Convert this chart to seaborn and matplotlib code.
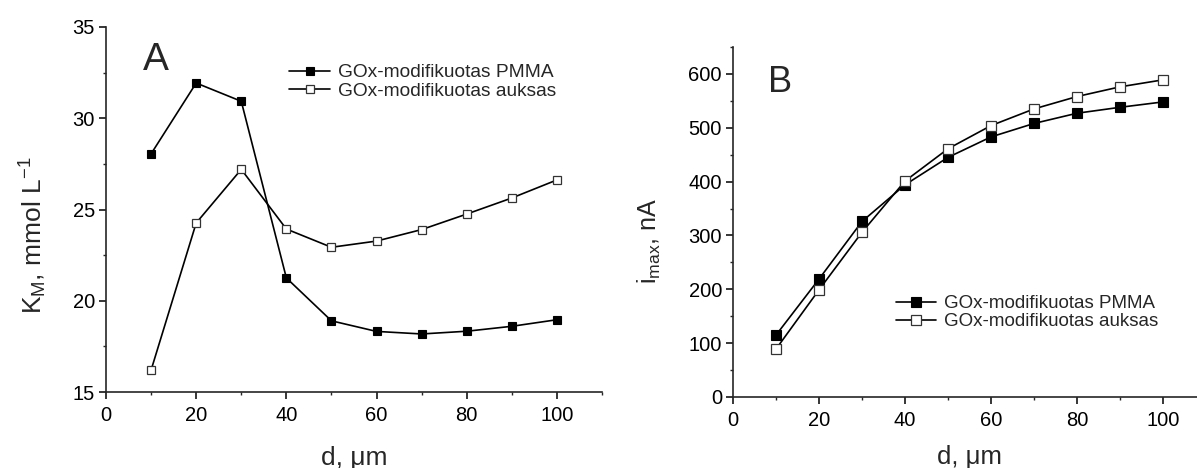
import numpy as np
import pandas as pd
import matplotlib
matplotlib.use("Agg")
import matplotlib.pyplot as plt
from matplotlib.ticker import MultipleLocator
import seaborn as sns

# Thickness of the layer, µm
d_um = [10, 20, 30, 40, 50, 60, 70, 80, 90, 100]

# Panel A: apparent Michaelis constant K_M, mmol/L
km_pmma = [28.05, 31.93, 30.93, 21.25, 18.9, 18.32, 18.18, 18.33, 18.6, 18.96]
km_gold = [16.2, 24.26, 27.2, 23.93, 22.93, 23.27, 23.9, 24.75, 25.63, 26.62]

# Panel B: maximal current i_max, nA
imax_pmma = [115, 219, 326, 394, 445, 483, 508, 527, 538, 548]
imax_gold = [89, 199, 306, 401, 461, 504, 535, 558, 576, 589]

label_pmma = "GOx-modifikuotas PMMA"
label_gold = "GOx-modifikuotas auksas"

sns.set_style("ticks")
plt.rcParams["font.family"] = ["Liberation Sans", "DejaVu Sans"]
plt.rcParams["mathtext.fontset"] = "custom"
plt.rcParams["mathtext.rm"] = "Liberation Sans"
plt.rcParams["mathtext.it"] = "Liberation Sans:italic"
plt.rcParams["axes.linewidth"] = 1.2

W, H = 1197, 468
fig = plt.figure(figsize=(W / 100, H / 100), dpi=100)
fig.patch.set_facecolor("white")

def px_axes(left, top, right, bottom):
    return fig.add_axes([left / W, 1 - bottom / H, (right - left) / W, (bottom - top) / H])

axA = px_axes(106, 27, 602, 392)
axB = px_axes(733, 47, 1206, 397)

dfA = pd.DataFrame({"d": d_um, "pmma": km_pmma, "gold": km_gold})
dfB = pd.DataFrame({"d": d_um, "pmma": imax_pmma, "gold": imax_gold})

def draw(ax, df, ms):
    sns.lineplot(data=df, x="d", y="pmma", ax=ax, color="black", lw=1.2,
                 marker="s", markersize=ms, markerfacecolor="black",
                 markeredgecolor="black", markeredgewidth=0.8, label=label_pmma)
    sns.lineplot(data=df, x="d", y="gold", ax=ax, color="black", lw=1.2,
                 marker="s", markersize=ms, markerfacecolor="white",
                 markeredgecolor="#333333", markeredgewidth=0.9, label=label_gold)

draw(axA, dfA, 6)
draw(axB, dfB, 7.5)

for ax in (axA, axB):
    sns.despine(ax=ax)
    ax.set_xlim(0, 110)
    ax.xaxis.set_major_locator(MultipleLocator(20))
    ax.xaxis.set_minor_locator(MultipleLocator(10))
    ax.tick_params(axis="both", which="major", direction="out", length=5,
                   width=1.1, labelsize=14.5, colors="black")
    ax.tick_params(axis="both", which="minor", direction="out", length=2.5, width=1.0)
    ax.tick_params(axis="x", which="major", pad=5)
    ax.tick_params(axis="y", which="major", pad=3)
    ax.set_facecolor("white")

axA.set_xlabel("d, \u03bcm", fontsize=19, labelpad=0)
axA.xaxis.set_label_coords(0.5, -0.148)
axB.set_xlabel("d, \u03bcm", fontsize=18.5, labelpad=0)
axB.xaxis.set_label_coords(0.5, -0.138)

axA.set_ylim(15, 35)
axA.yaxis.set_major_locator(MultipleLocator(5))
axA.yaxis.set_minor_locator(MultipleLocator(2.5))
axA.set_ylabel(r"K$_\mathregular{M}$, mmol L$^\mathregular{-1}$", fontsize=19, va="center")
axA.yaxis.set_label_coords(-0.146, 0.43)

axB.set_ylim(0, 650)
axB.yaxis.set_major_locator(MultipleLocator(100))
axB.yaxis.set_minor_locator(MultipleLocator(50))
axB.set_ylabel(r"i$_\mathregular{max}$, nA", fontsize=18, va="center")
axB.yaxis.set_label_coords(-0.176, 0.447)

axA.text(0.0746, 0.882, "A", transform=axA.transAxes, fontsize=28,
         ha="left", va="baseline")
axB.text(0.074, 0.871, "B", transform=axB.transAxes, fontsize=26,
         ha="left", va="baseline")

axA.legend(loc="upper left", bbox_to_anchor=(0.369, 0.899), frameon=False,
           fontsize=13.8, handlelength=2.15, handletextpad=0.4, labelspacing=0.05,
           borderpad=0, borderaxespad=0)
axB.legend(loc="upper left", bbox_to_anchor=(0.345, 0.291), frameon=False,
           fontsize=13.5, handlelength=2.15, handletextpad=0.38, labelspacing=0.05,
           borderpad=0, borderaxespad=0)

fig.savefig("out.png", dpi=100, facecolor="white")
